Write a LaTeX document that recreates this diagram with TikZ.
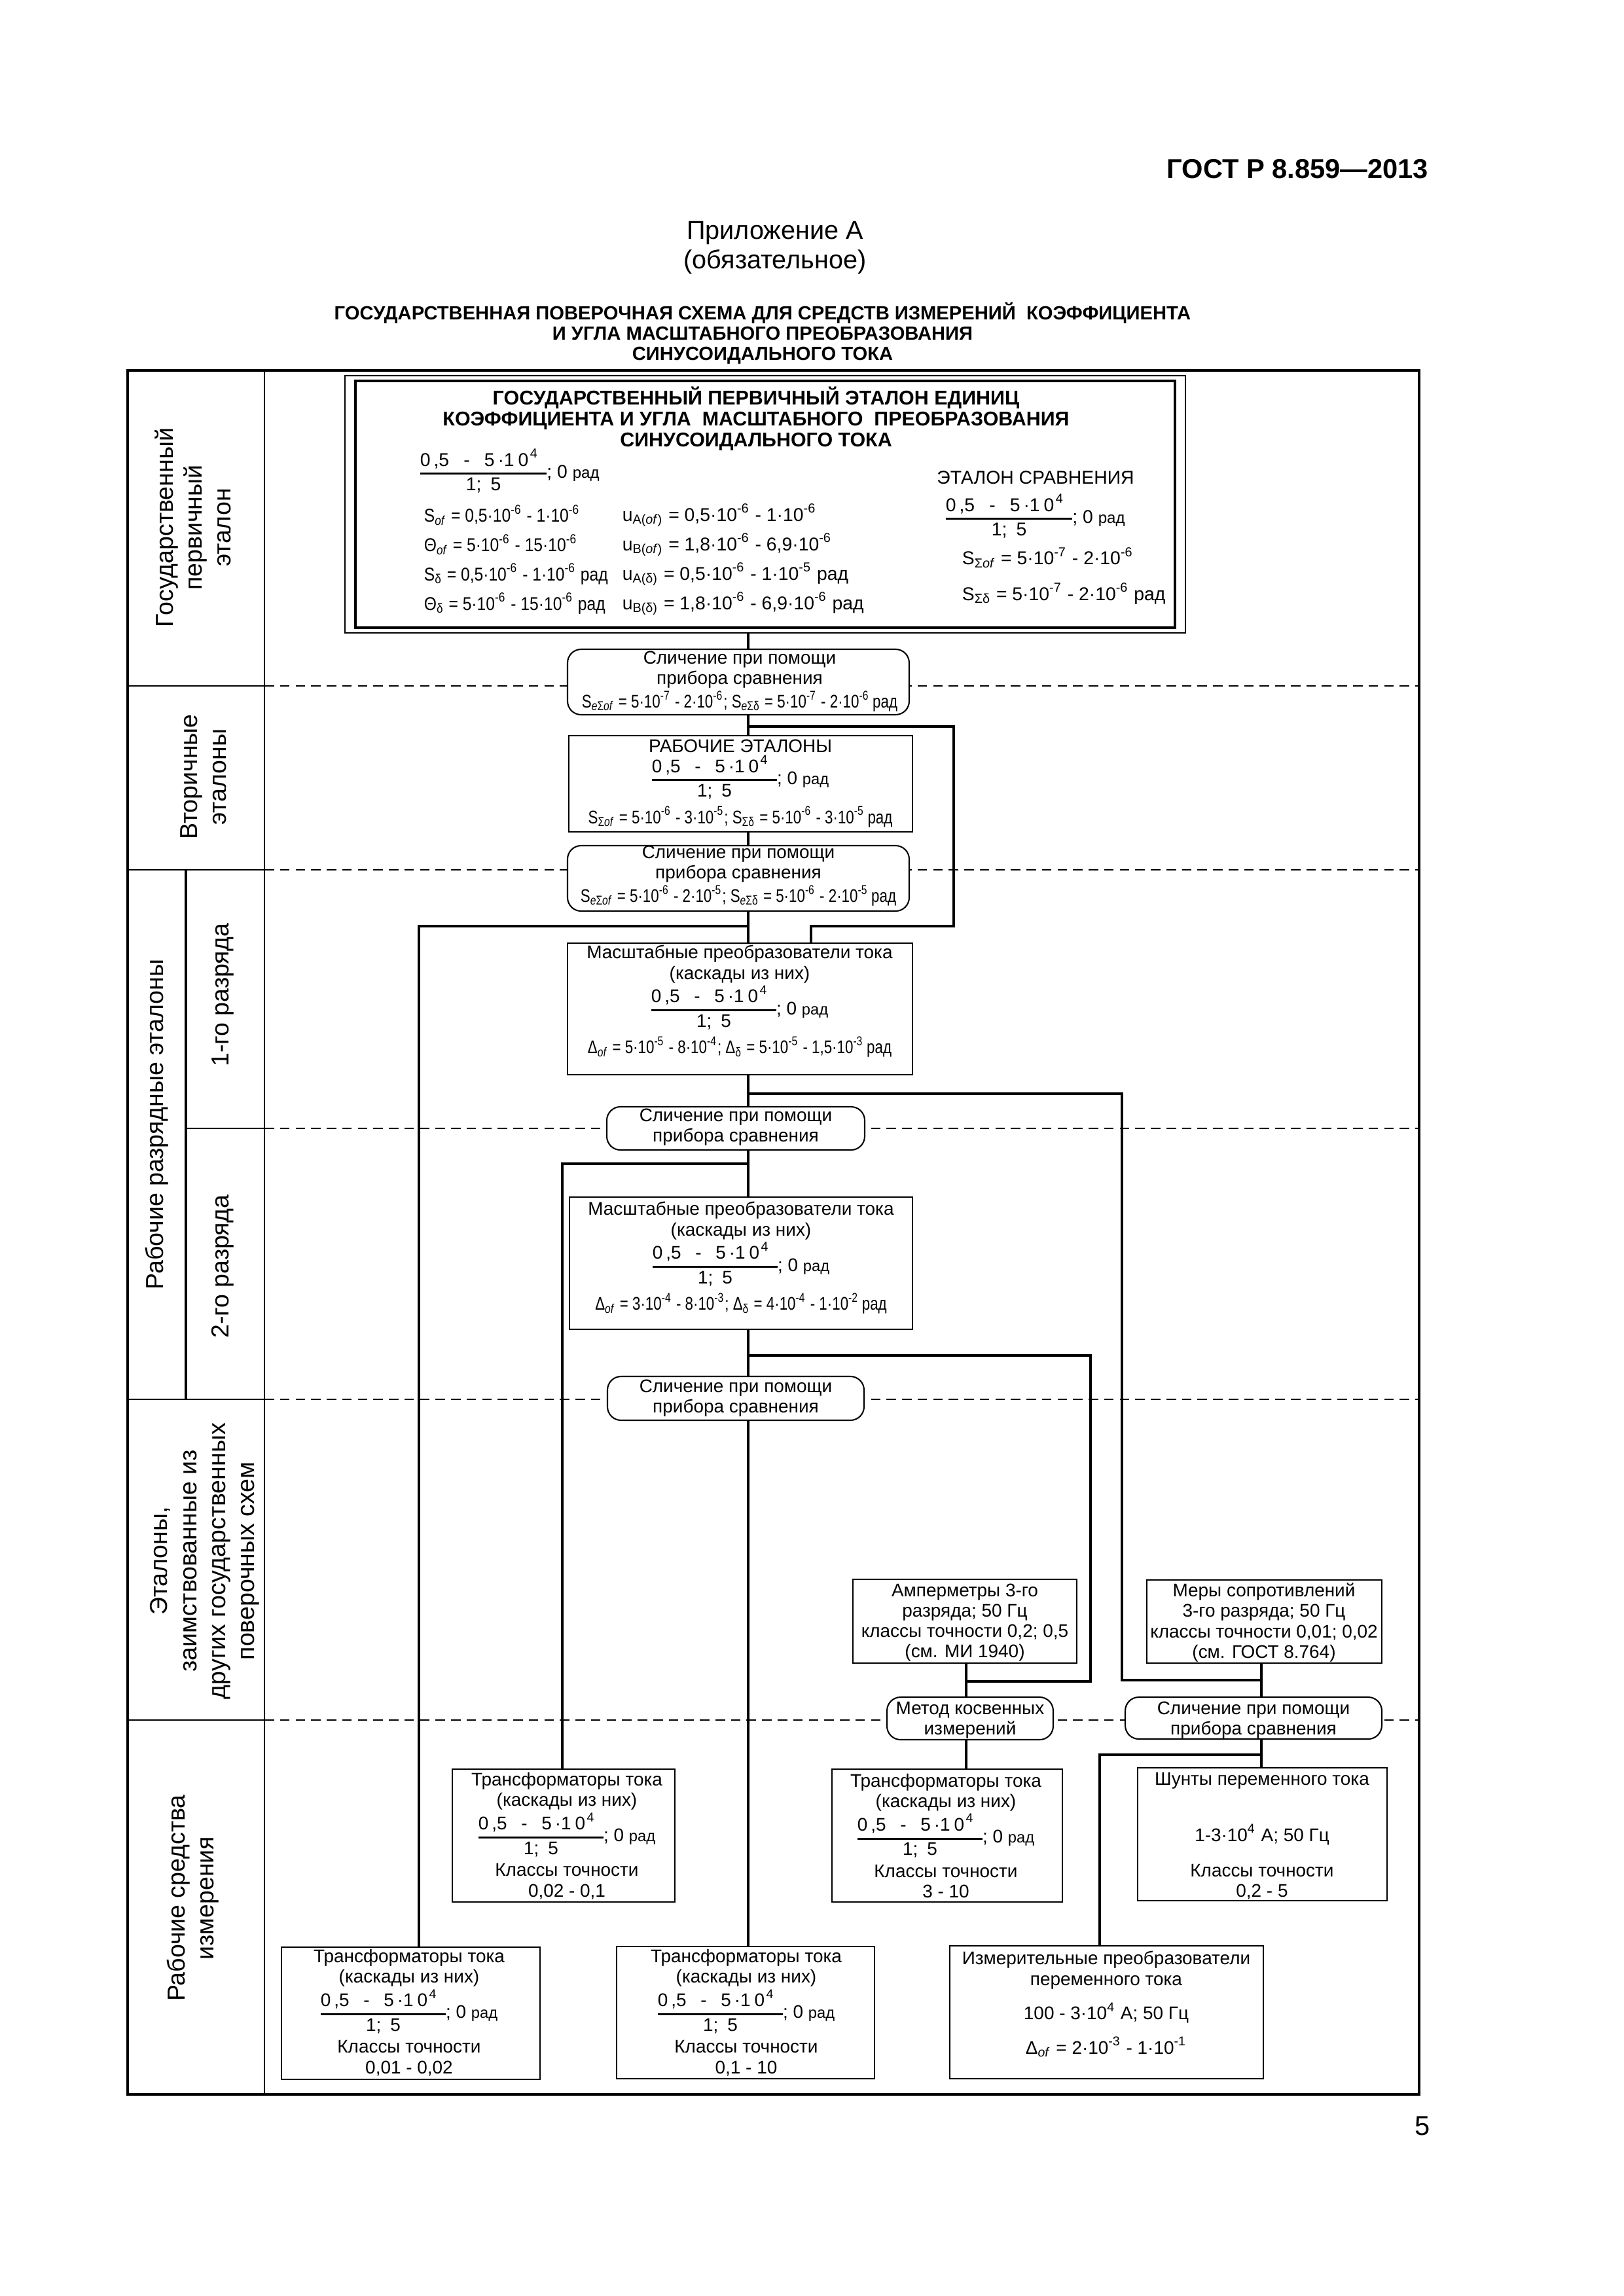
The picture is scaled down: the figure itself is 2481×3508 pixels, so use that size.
\documentclass[tikz,border=0pt]{standalone}
\usepackage{fontspec}
\setmainfont{Liberation Sans}
\newfontfamily\nar[FakeStretch=0.8]{Liberation Sans}
\newfontfamily\narp[FakeStretch=0.87]{Liberation Sans}
\usepackage{graphicx}
\usetikzlibrary{fit}

\newcommand\tn[1]{10\textsuperscript{#1}}
\newcommand\sbs[1]{\textsubscript{#1}}
\newcommand\rad{\scalebox{0.85}{рад}}
\newcommand\fnum{0\kern1.2pt,5\enspace\ -\ \enspace5\kern1.2pt·1\kern1.4pt0\kern0.6pt\textsuperscript{4}\kern3pt}
\newcommand\frk{{\setlength\arrayrulewidth{0.7pt}\renewcommand\arraystretch{1.1}\begin{tabular}[c]{@{}c@{}}\fnum\\ \hline 1;\enspace5\end{tabular}}}
\newcommand\frz{\frk; 0 \rad}

\tikzset{
  x=0.23993pt, y=-0.23993pt,
  frame/.style={line width=0.85pt},
  colline/.style={line width=0.65pt},
  cell/.style={line width=0.4pt},
  rowdash/.style={line width=0.45pt, dash pattern=on 3.5pt off 2.2pt},
  conn/.style={line width=0.8pt},
  box/.style={draw, line width=0.5pt, fill=white, inner sep=0pt},
  rbox/.style={box, rounded corners=5pt},
  bt/.style={font=\fontsize{6.7}{7.5}\selectfont, align=center, inner sep=0pt},
  pt/.style={font=\fontsize{6.8}{7.6}\selectfont, inner sep=0pt},
  lab/.style={font=\fontsize{9}{10.6}\selectfont, align=center, rotate=90, inner sep=0pt},
}

\begin{document}
\begin{tikzpicture}
\useasboundingbox (0,0) rectangle (2481,3508);

% header
\node[font=\bfseries\fontsize{10}{12}\selectfont, anchor=east, inner sep=0pt] (gost) at (2183,258) {ГОСТ Р 8.859—2013};
\node[font=\fontsize{9.5}{10.8}\selectfont, align=center, inner sep=0pt] (pril) at (1184,378) {Приложение А\\(обязательное)};
\node[font=\bfseries\fontsize{7}{7.4}\selectfont, align=center, inner sep=0pt] (title) at (1165,509) {ГОСУДАРСТВЕННАЯ ПОВЕРОЧНАЯ СХЕМА ДЛЯ СРЕДСТВ ИЗМЕРЕНИЙ\ \ КОЭФФИЦИЕНТА\\И УГЛА МАСШТАБНОГО ПРЕОБРАЗОВАНИЯ\\СИНУСОИДАЛЬНОГО ТОКА};
\node[font=\fontsize{10}{12}\selectfont, inner sep=0pt] (pnum) at (2173,3248) {5};

% row boundaries
\coordinate (r1) at (0,1048);
\coordinate (r2) at (0,1329);
\coordinate (r3) at (0,1724);
\coordinate (r4) at (0,2138);
\coordinate (r5) at (0,2628);
\foreach \r in {r1,r2,r3,r4,r5}{
  \draw[rowdash] (404,0 |- \r) -- (2168,0 |- \r);
}
\draw[cell] (195,0 |- r1) -- (404,0 |- r1);
\draw[cell] (195,0 |- r2) -- (404,0 |- r2);
\draw[cell] (284,0 |- r3) -- (404,0 |- r3);
\draw[cell] (195,0 |- r4) -- (404,0 |- r4);
\draw[cell] (195,0 |- r5) -- (404,0 |- r5);
\draw[frame] (284,1329) -- (284,2138);
\draw[colline] (404,566) -- (404,3200);
\draw[frame] (195,566) rectangle (2168,3200);

% left labels
\node[lab] (l1) at (295,806) {Государственный\\первичный\\эталон};
\node[lab] (l2) at (311,1187) {Вторичные\\эталоны};
\node[lab] (l3) at (240,1718) {Рабочие разрядные эталоны};
\node[lab] (l4) at (340,1520) {1-го разряда};
\node[lab] (l5) at (340,1935) {2-го разряда};
\node[lab] (l6) at (313,2385) {Эталоны,\\заимствованные из\\других государственных\\поверочных схем};
\node[lab] (l7) at (295,2900) {Рабочие средства\\измерения};

% primary standard
\node[box, line width=0.5pt, fit={(527,574) (1811,967)}] (prim) {};
\node[draw, line width=1pt, inner sep=0pt, fit={(543,582) (1795,959)}] (primin) {};
\node[font=\bfseries\fontsize{7.3}{7.7}\selectfont, align=center, inner sep=0pt] (ptitle) at (1155,640) {ГОСУДАРСТВЕННЫЙ ПЕРВИЧНЫЙ ЭТАЛОН ЕДИНИЦ\\КОЭФФИЦИЕНТА И УГЛА\ \ МАСШТАБНОГО\ \ ПРЕОБРАЗОВАНИЯ\\СИНУСОИДАЛЬНОГО ТОКА};
\node[pt, anchor=west] (pfr) at (641,723) {\frz};
\node[pt, anchor=west] (pa1) at (647,787) {\narp S\sbs{\textit{of}} = 0,5·\tn{-6} - 1·\tn{-6}};
\node[pt, anchor=west] (pa2) at (647,832) {\narp Θ\sbs{\textit{of}} = 5·\tn{-6} - 15·\tn{-6}};
\node[pt, anchor=west] (pa3) at (647,877) {\narp S\sbs{δ} = 0,5·\tn{-6} - 1·\tn{-6} рад};
\node[pt, anchor=west] (pa4) at (647,922) {\narp Θ\sbs{δ} = 5·\tn{-6} - 15·\tn{-6} рад};
\node[pt, anchor=west] (pb1) at (950,787) {u\sbs{A(\textit{of})} = 0,5·\tn{-6} - 1·\tn{-6}};
\node[pt, anchor=west] (pb2) at (950,832) {u\sbs{B(\textit{of})} = 1,8·\tn{-6} - 6,9·\tn{-6}};
\node[pt, anchor=west] (pb3) at (950,877) {u\sbs{A(δ)} = 0,5·\tn{-6} - 1·\tn{-5} рад};
\node[pt, anchor=west] (pb4) at (950,922) {u\sbs{B(δ)} = 1,8·\tn{-6} - 6,9·\tn{-6} рад};
\node[pt] (pcs) at (1582,730) {ЭТАЛОН СРАВНЕНИЯ};
\node[pt, anchor=west] (pcf) at (1444,792) {\frz};
\node[pt, anchor=west] (pc1) at (1469,852) {S\sbs{Σ\textit{of}} = 5·\tn{-7} - 2·\tn{-6}};
\node[pt, anchor=west] (pc2) at (1469,907) {S\sbs{Σδ} = 5·\tn{-7} - 2·\tn{-6} рад};

% boxes
\node[rbox, fit={(867,992) (1389,1092)}] (sl1) {};
\node[bt] (sl1t) at (1130,1041) {Сличение при помощи\\прибора сравнения\\{\nar S\sbs{\textit{e}Σ\textit{of}} = 5·\tn{-7} - 2·\tn{-6};\ S\sbs{\textit{e}Σδ} = 5·\tn{-7} - 2·\tn{-6}\,рад}};

\node[box, fit={(869,1124) (1394,1271)}] (rab) {};
\node[bt] (rabt) at (1131,1197) {РАБОЧИЕ ЭТАЛОНЫ\\\frz\\{\nar S\sbs{Σ\textit{of}} = 5·\tn{-6} - 3·\tn{-5};\ S\sbs{Σδ} = 5·\tn{-6} - 3·\tn{-5}\,рад}};

\node[rbox, fit={(867,1292) (1389,1392)}] (sl2) {};
\node[bt] (sl2t) at (1128,1338) {Сличение при помощи\\прибора сравнения\\{\nar S\sbs{\textit{e}Σ\textit{of}} = 5·\tn{-6} - 2·\tn{-5};\ S\sbs{\textit{e}Σδ} = 5·\tn{-6} - 2·\tn{-5}\,рад}};

\node[box, fit={(867,1441) (1394,1642)}] (m1) {};
\node[bt] (m1t) at (1130,1530) {Масштабные преобразователи тока\\(каскады из них)\\\frz\\{\nar Δ\sbs{\textit{of}} = 5·\tn{-5} - 8·\tn{-4};\ Δ\sbs{δ} = 5·\tn{-5} - 1,5·\tn{-3}\,рад}};

\node[rbox, fit={(927,1691) (1321,1757)}] (sl5) {};
\node[bt] (sl5t) at (1124,1722) {Сличение при помощи\\прибора сравнения};

\node[box, fit={(870,1829) (1394,2031)}] (m2) {};
\node[bt] (m2t) at (1132,1922) {Масштабные преобразователи тока\\(каскады из них)\\\frz\\{\nar Δ\sbs{\textit{of}} = 3·\tn{-4} - 8·\tn{-3};\ Δ\sbs{δ} = 4·\tn{-4} - 1·\tn{-2}\,рад}};

\node[rbox, fit={(928,2103) (1320,2170)}] (sl6) {};
\node[bt] (sl6t) at (1124,2136) {Сличение при помощи\\прибора сравнения};

\node[box, fit={(1303,2413) (1645,2541)}] (amp) {};
\node[bt] (ampt) at (1474,2479) {Амперметры 3-го\\разряда; 50 Гц\\классы точности 0,2; 0,5\\(см. МИ 1940)};

\node[box, fit={(1752,2414) (2111,2541)}] (mery) {};
\node[bt] (meryt) at (1931,2479) {Меры сопротивлений\\3-го разряда; 50 Гц\\классы точности 0,01; 0,02\\(см. ГОСТ 8.764)};

\node[rbox, fit={(1355,2593) (1609,2658)}] (met) {};
\node[bt] (mett) at (1482,2628) {Метод косвенных\\измерений};

\node[rbox, fit={(1719,2593) (2111,2657)}] (sl3) {};
\node[bt] (sl3t) at (1915,2628) {Сличение при помощи\\прибора сравнения};

\node[box, fit={(691,2703) (1031,2906)}] (tr1) {};
\node[bt] (tr1t) at (866,2805) {Трансформаторы тока\\(каскады из них)\\\frz\\Классы точности\\0,02 - 0,1};

\node[box, fit={(1271,2703) (1623,2906)}] (tr2) {};
\node[bt] (tr2t) at (1445,2805) {Трансформаторы тока\\(каскады из них)\\\frz\\Классы точности\\3 - 10};

\node[box, fit={(1738,2701) (2119,2904)}] (shunt) {};
\node[bt] (shuntt) at (1928,2805) {Шунты переменного тока\\[12pt]1-3·\tn{4} А; 50 Гц\\[5.5pt]Классы точности\\0,2 - 5};

\node[box, fit={(430,2975) (825,3177)}] (tr3) {};
\node[bt] (tr3t) at (625,3075) {Трансформаторы тока\\(каскады из них)\\\frz\\Классы точности\\0,01 - 0,02};

\node[box, fit={(942,2974) (1336,3176)}] (tr4) {};
\node[bt] (tr4t) at (1140,3075) {Трансформаторы тока\\(каскады из них)\\\frz\\Классы точности\\0,1 - 10};

\node[box, fit={(1451,2973) (1930,3176)}] (izm) {};
\node[bt] (izmt) at (1690,3062) {Измерительные преобразователи\\переменного тока\\[4pt]100 - 3·\tn{4} А; 50 Гц\\[4pt]Δ\sbs{\textit{of}} = 2·\tn{-3} - 1·\tn{-1}};

% connectors
\coordinate (spine) at (1143,0);
\draw[conn] (spine |- prim.south) -- (spine |- sl1.north);
\draw[conn] (spine |- sl1.south) -- (spine |- rab.north);
\draw[conn] (spine |- rab.south) -- (spine |- sl2.north);
\draw[conn] (spine |- sl2.south) -- (spine |- m1.north);
\draw[conn] (spine |- m1.south) -- (spine |- sl5.north);
\draw[conn] (spine |- sl5.south) -- (spine |- m2.north);
\draw[conn] (spine |- m2.south) -- (spine |- sl6.north);
\draw[conn] (spine |- sl6.south) -- (spine |- tr4.north);

\coordinate (jA) at (1143,1110);
\coordinate (cA) at (1457,1415);
\coordinate (xA) at (1239,0);
\draw[conn] (jA) -| (cA) -| (xA |- m1.north);

\coordinate (jB) at (1143,1415);
\coordinate (xB) at (640,0);
\draw[conn] (jB) -| (xB |- tr3.north);

\coordinate (jC) at (1143,1671);
\coordinate (cC) at (1714,2567);
\coordinate (xD) at (1927,0);
\draw[conn] (jC) -| (cC) -- (xD |- cC);
\draw[conn] (xD |- mery.south) -- (xD |- sl3.north);
\draw[conn] (xD |- sl3.south) -- (xD |- shunt.north);

\coordinate (jE) at (1143,1778);
\coordinate (xE) at (859,0);
\draw[conn] (jE) -| (xE |- tr1.north);

\coordinate (jF) at (1143,2071);
\coordinate (cF) at (1666,2569);
\coordinate (xG) at (1476,0);
\draw[conn] (jF) -| (cF) -- (xG |- cF);
\draw[conn] (xG |- amp.south) -- (xG |- met.north);
\draw[conn] (xG |- met.south) -- (xG |- tr2.north);

\coordinate (jH) at (1927,2681);
\coordinate (xH) at (1680,0);
\draw[conn] (jH) -| (xH |- izm.north);
\end{tikzpicture}
\end{document}
